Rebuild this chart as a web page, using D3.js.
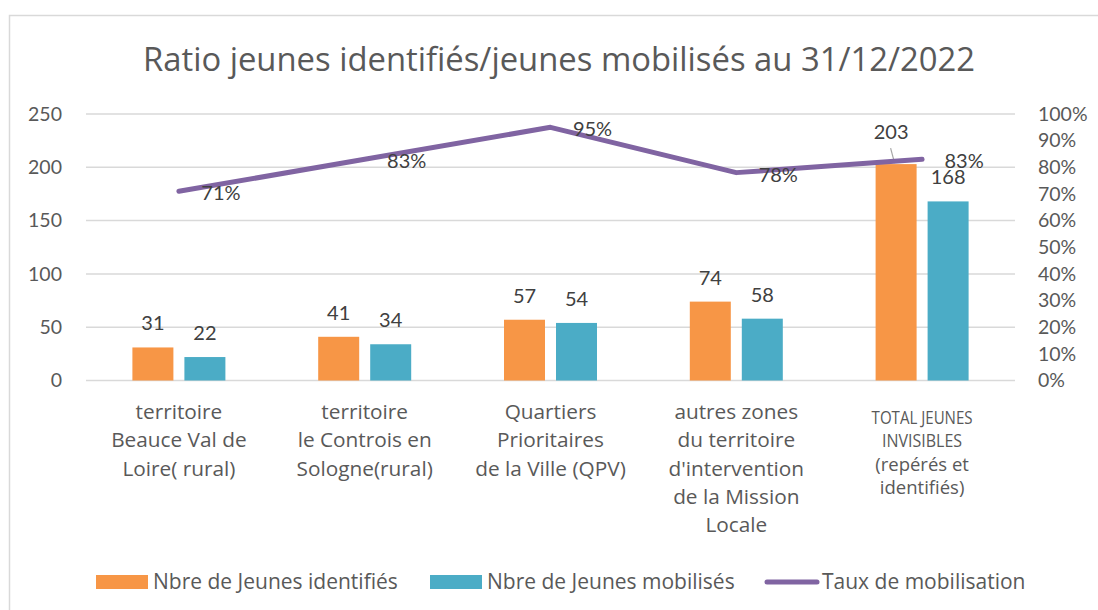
<!DOCTYPE html>
<html><head><meta charset="utf-8">
<script src="https://cdn.jsdelivr.net/npm/d3@7"></script>
<style>
html,body{margin:0;padding:0;background:#fff;}
text{font-family:"Open Sans","Noto Sans",sans-serif;fill:#595959;}
.num{font-family:Lato,"Open Sans",sans-serif;}
</style></head>
<body>
<svg id="chart" width="1098" height="610"></svg>
<script>
const categories = [
  ["territoire","Beauce Val de","Loire( rural)"],
  ["territoire","le Controis en","Sologne(rural)"],
  ["Quartiers","Prioritaires","de la Ville (QPV)"],
  ["autres zones","du territoire","d'intervention","de la Mission","Locale"],
  ["TOTAL JEUNES","INVISIBLES","(repérés et","identifiés)"]
];
const identified = [31, 41, 57, 74, 203];
const mobilised = [22, 34, 54, 58, 168];
const rate = [0.71, 0.83, 0.95, 0.78, 0.83];
const leftTicks = [0, 50, 100, 150, 200, 250];
const rightTicks = [0,0.1,0.2,0.3,0.4,0.5,0.6,0.7,0.8,0.9,1];
const seriesNames = ["Nbre de Jeunes identifiés","Nbre de Jeunes mobilisés","Taux de mobilisation"];
const title = "Ratio jeunes identifiés/jeunes mobilisés au 31/12/2022";

const colors = ["#F79646", "#4BACC6", "#8064A2"];
const svg = d3.select("#chart");

// chart border
svg.append("rect").attr("x",9.5).attr("y",15.5).attr("width",1100).attr("height",620)
  .attr("fill","#fff").attr("stroke","#d9d9d9").attr("stroke-width",1.5);

const pLeft = 86, pRight = 1015, pTop = 114, pBottom = 380.5;
const idx = d3.range(categories.length);
const x = d3.scaleBand().domain(idx).range([pLeft, pRight]);
const yL = d3.scaleLinear().domain([0, 250]).range([pBottom, pTop]);
const yR = d3.scaleLinear().domain([0, 1]).range([pBottom, pTop]);

// title
svg.append("text").attr("x", 559).attr("y", 71).attr("text-anchor","middle")
  .style("font-size","32.8px").text(title);

// gridlines
svg.append("g").selectAll("line").data(leftTicks).join("line")
  .attr("x1", pLeft).attr("x2", pRight)
  .attr("y1", d => yL(d)).attr("y2", d => yL(d))
  .attr("stroke", "#d9d9d9").attr("stroke-width", 1.5);

// left axis
const gl = svg.append("g").attr("transform", `translate(${pLeft},0)`)
  .call(d3.axisLeft(yL).tickValues(leftTicks).tickSize(0).tickPadding(24));
gl.select(".domain").remove();
gl.selectAll("text").attr("class","num").style("font-size","19.5px").style("font-family","Lato").style("fill","#595959");

// right axis
const gr = svg.append("g").attr("transform", `translate(${pRight},0)`)
  .call(d3.axisRight(yR).tickValues(rightTicks).tickSize(0).tickPadding(23).tickFormat(d3.format(".0%")));
gr.select(".domain").remove();
gr.selectAll("text").attr("class","num").style("font-size","19.5px").style("font-family","Lato").style("fill","#595959");

// bars
const barW = 41, gap = 11;
const groups = [identified, mobilised];
groups.forEach((vals, s) => {
  const off = s === 0 ? -(barW + gap/2) : gap/2;
  svg.append("g").selectAll("rect").data(vals).join("rect")
    .attr("x", (d,i) => x(i) + x.bandwidth()/2 + off)
    .attr("y", d => yL(d))
    .attr("width", barW)
    .attr("height", d => pBottom - yL(d))
    .attr("fill", colors[s]);
});

// bar labels
groups.forEach((vals, s) => {
  const off = s === 0 ? -(barW + gap/2) : gap/2;
  svg.append("g").selectAll("text").data(vals).join("text")
    .attr("class","num")
    .attr("x", (d,i) => x(i) + x.bandwidth()/2 + off + barW/2 + (s===0 && i===4 ? -5 : 0))
    .attr("y", (d,i) => yL(d) - 17 - (s===0 && i===4 ? 8 : 0))
    .attr("text-anchor","middle")
    .style("font-size","20px")
    .style("fill","#404040")
    .text(d => d);
});
// leader line for shifted label (203)
{
  const i = 4, cxb = x(i) + x.bandwidth()/2 - (barW + gap/2) + barW/2;
  svg.append("line")
    .attr("x1", cxb - 5.5).attr("y1", yL(identified[i]) - 16)
    .attr("x2", cxb - 1.5).attr("y2", yL(identified[i]) - 1)
    .attr("stroke","#a6a6a6").attr("stroke-width",1.2);
}

// line
const line = d3.line().x((d,i) => x(i) + x.bandwidth()/2).y(d => yR(d));
svg.append("path").datum(rate).attr("d", line)
  .attr("fill","none").attr("stroke", colors[2]).attr("stroke-width", 5)
  .attr("stroke-linecap","round").attr("stroke-linejoin","round");

// line labels
svg.append("g").selectAll("text").data(rate).join("text")
  .attr("class","num")
  .attr("x", (d,i) => x(i) + x.bandwidth()/2 + 42)
  .attr("y", d => yR(d) + 9)
  .attr("text-anchor","middle")
  .style("font-size","20px").style("fill","#404040")
  .text(d => d3.format(".0%")(d));

// category labels
const capsWidth = {"TOTAL JEUNES": 101, "INVISIBLES": 80};
categories.forEach((lines, i) => {
  const small = i === 4;
  const t = svg.append("text")
    .attr("text-anchor","middle")
    .style("font-size", small ? "18.5px" : "20.8px");
  lines.forEach((ln, k) => {
    const sp = t.append("tspan")
      .attr("x", x(i) + x.bandwidth()/2)
      .attr("y", (small ? 424 : 419) + k * (small ? 23.3 : 28.3))
      .text(ln);
    if (small && capsWidth[ln]) sp.attr("textLength", capsWidth[ln]).attr("lengthAdjust","spacingAndGlyphs");
  });
});

// legend
const legendY = 582;
const leg = [
  {x: 96, type: "rect"},
  {x: 430, type: "rect"},
  {x: 765, type: "line"}
];
leg.forEach((l, i) => {
  if (l.type === "rect") {
    svg.append("rect").attr("x", l.x).attr("y", legendY - 7).attr("width", 52).attr("height", 14).attr("fill", colors[i]);
  } else {
    svg.append("line").attr("x1", l.x + 2).attr("x2", l.x + 52).attr("y1", legendY).attr("y2", legendY)
      .attr("stroke", colors[i]).attr("stroke-width", 5).attr("stroke-linecap","round");
  }
  svg.append("text").attr("x", l.x + 57).attr("y", legendY + 7)
    .style("font-size","21px").text(seriesNames[i]);
});
</script>
</body></html>
